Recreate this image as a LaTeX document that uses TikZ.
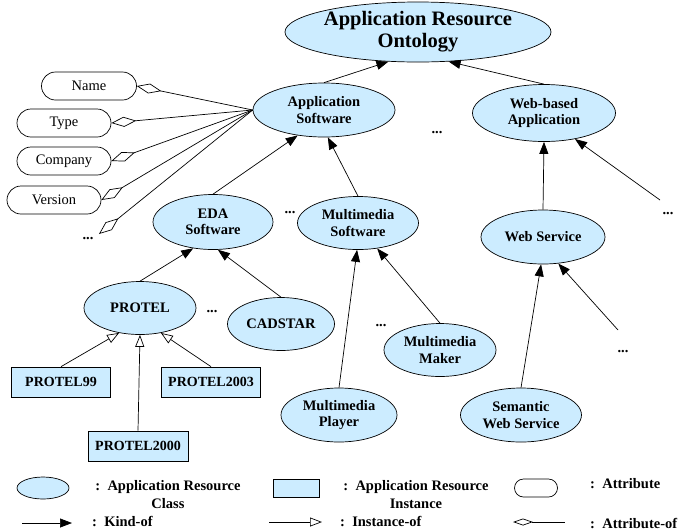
\documentclass[tikz,border=0pt]{standalone}
\usepackage{fontspec}
\setmainfont{Liberation Serif}
\usetikzlibrary{arrows.meta,shapes.geometric,shapes.misc}

\definecolor{clsblue}{RGB}{204,236,255}

\tikzset{
  cls/.style={ellipse, draw, fill=clsblue, line width=0.7pt, inner sep=0pt,
    align=center, font=\fontsize{14.5}{16.5}\selectfont\bfseries},
  inst/.style={rectangle, draw, fill=clsblue, line width=0.7pt, inner sep=0pt,
    minimum width=99pt, minimum height=30pt, font=\fontsize{14}{16}\selectfont\bfseries},
  attr/.style={rounded rectangle, draw, line width=0.7pt, inner sep=0pt,
    minimum width=94pt, minimum height=28pt, font=\fontsize{14.5}{16}\selectfont},
  kindof/.style={-{Triangle[length=12pt,width=9pt]}, line width=0.7pt},
  instof/.style={-{Triangle[open,length=12pt,width=9pt]}, line width=0.7pt},
  attrof/.style={{Diamond[open,length=25pt,width=10pt]}-, line width=0.7pt},
  lgattrof/.style={{Diamond[open,length=20pt,width=7pt]}-, line width=0.7pt},
  dots/.style={inner sep=0pt, font=\fontsize{14.5}{16}\selectfont\bfseries},
  lgtext/.style={inner sep=0pt, align=center, font=\fontsize{14.5}{18}\selectfont\bfseries}
}

\begin{document}
\begin{tikzpicture}[x=1pt, y=-1pt]

  \useasboundingbox (0,0) rectangle (682,531);

  % --- Class ellipses ---
  \node[cls, minimum width=207pt, minimum height=60pt,
    font=\fontsize{20.5}{22}\selectfont\bfseries] (onto) at (418,32)
    {Application Resource\\Ontology};
  \node[cls, minimum width=142pt, minimum height=54pt] (appsw) at (324,110) {Application\\Software};
  \node[cls, minimum width=143pt, minimum height=57pt] (webapp) at (544,113) {Web-based\\Application};
  \node[cls, minimum width=120pt, minimum height=55pt] (eda) at (213,222) {EDA\\Software};
  \node[cls, minimum width=121pt, minimum height=53pt] (mmsw) at (358,223) {Multimedia\\Software};
  \node[cls, minimum width=124pt, minimum height=54pt] (websvc) at (543,237) {Web Service};
  \node[cls, minimum width=112pt, minimum height=53pt] (protel) at (140,308) {PROTEL};
  \node[cls, minimum width=107pt, minimum height=53pt] (cadstar) at (281,324) {CADSTAR};
  \node[cls, minimum width=112pt, minimum height=53pt] (mmmaker) at (440,350) {Multimedia\\Maker};
  \node[cls, minimum width=116pt, minimum height=54pt] (mmplayer) at (339,415) {Multimedia\\Player};
  \node[cls, minimum width=121pt, minimum height=54pt] (semws) at (521,415) {Semantic\\Web Service};

  % --- Instances ---
  \node[inst] (p99) at (61,382) {PROTEL99};
  \node[inst] (p2003) at (211,382) {PROTEL2003};
  \node[inst, minimum width=100pt] (p2000) at (138,446) {PROTEL2000};

  % --- Attributes ---
  \node[attr, minimum width=95pt] (name) at (89,86) {Name};
  \node[attr] (type) at (64,123) {Type};
  \node[attr] (company) at (64,161) {Company};
  \node[attr] (version) at (54,200) {Version};
  \coordinate (attrmore) at (99,234);

  % --- Elided siblings ---
  \node[dots] (dotsattr) at (88,239) {...};
  \node[dots] (dotstop) at (437,133) {...};
  \node[dots] (dotseda) at (290,213) {...};
  \node[dots] (dotswebapp) at (668,214) {...};
  \node[dots] (dotsprotel) at (212,312) {...};
  \node[dots] (dotsmm) at (381,326) {...};
  \node[dots] (dotswebsvc) at (623,352) {...};
  \coordinate (fromwebapp) at (660,200);
  \coordinate (fromwebsvc) at (618,330);

  % --- Kind-of ---
  \draw[kindof] (appsw.north) -- (onto.225);
  \draw[kindof] (webapp.north) -- (onto.316);
  \draw[kindof] (eda.north) -- (appsw.224);
  \draw[kindof] (mmsw.north) -- (appsw.278);
  \draw[kindof] (websvc.north) -- (webapp.south);
  \draw[kindof] (fromwebapp) -- (webapp.320);
  \draw[kindof] (protel.north) -- (eda.233);
  \draw[kindof] (cadstar.north) -- (eda.280);
  \draw[kindof] (mmplayer.north) -- (mmsw.268);
  \draw[kindof] (mmmaker.north) -- (mmsw.307);
  \draw[kindof] (semws.north) -- (websvc.266);
  \draw[kindof] (fromwebsvc) -- (websvc.300);

  % --- Instance-of ---
  \draw[instof] (p99.north) -- (protel.230);
  \draw[instof] (p2000.north) -- (protel.south);
  \draw[instof] (p2003.north) -- (protel.310);

  % --- Attribute-of ---
  \draw[attrof] (name.east) -- (appsw.west);
  \draw[attrof] (type.east) -- (appsw.west);
  \draw[attrof] (company.east) -- (appsw.west);
  \draw[attrof] (version.east) -- (appsw.west);
  \draw[attrof] (attrmore) -- (appsw.west);

  % --- Legend ---
  \node[cls, minimum width=52pt, minimum height=22pt] (lgcls) at (43,488) {};
  \node[lgtext] (lgclstxt) at (168,495) {:\ \ Application Resource\\Class};
  \node[inst, minimum width=46pt, minimum height=18pt] (lginst) at (296,488) {};
  \node[lgtext] (lginsttxt) at (416,495) {:\ \ Application Resource\\Instance};
  \node[attr, minimum width=43pt, minimum height=18pt] (lgattr) at (536,488) {};
  \node[lgtext, anchor=west] (lgattrtxt) at (590,484) {:\ \ Attribute};

  \coordinate (lgkinda) at (22,523);
  \coordinate (lgkindb) at (72,523);
  \draw[kindof] (lgkinda) -- (lgkindb);
  \node[lgtext, anchor=west] (lgkindtxt) at (92,521) {:\ \ Kind-of};

  \coordinate (lginsta) at (269,522);
  \coordinate (lginstb) at (322,522);
  \draw[instof] (lginsta) -- (lginstb);
  \node[lgtext, anchor=west] (lginstoftxt) at (340,521) {:\ \ Instance-of};

  \coordinate (lgattra) at (513,522);
  \coordinate (lgattrb) at (565,522);
  \draw[lgattrof] (lgattra) -- (lgattrb);
  \node[lgtext, anchor=west] (lgattroftxt) at (590,523) {:\ \ Attribute-of};

\end{tikzpicture}
\end{document}
